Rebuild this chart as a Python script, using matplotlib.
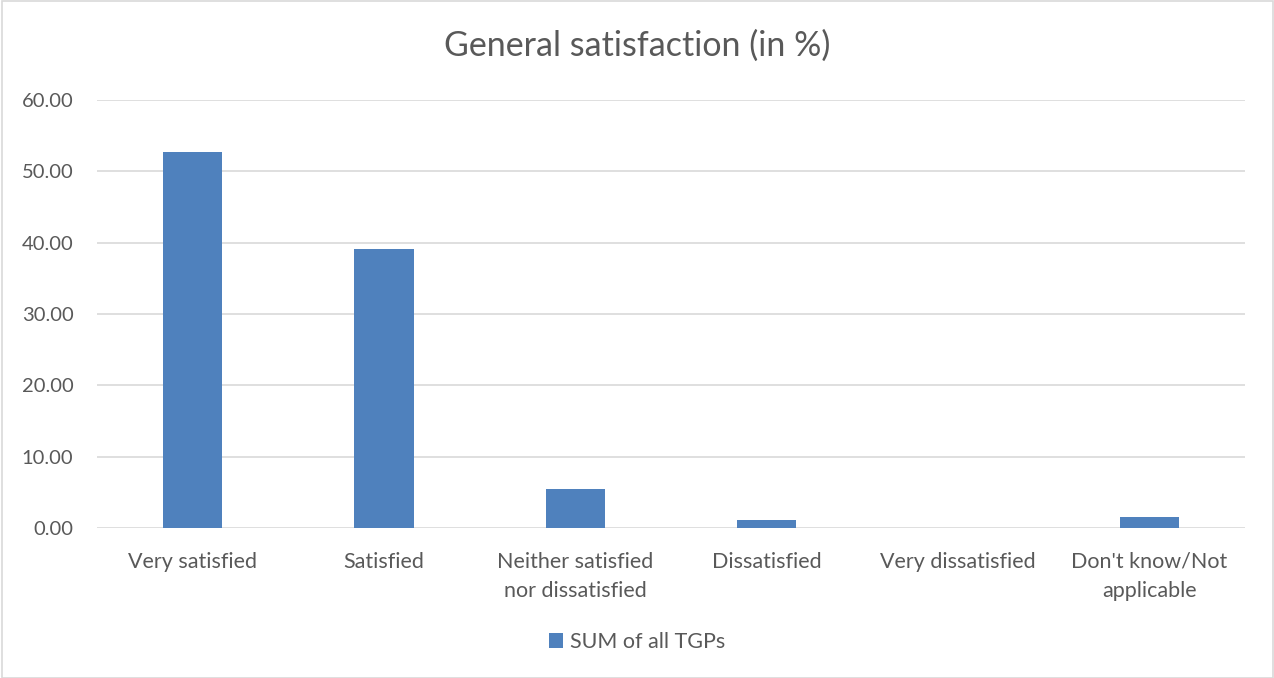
import numpy as np
import matplotlib.pyplot as plt
from matplotlib.patches import Rectangle

plt.rcParams['font.family'] = ['Lato', 'DejaVu Sans']

categories = ["Very satisfied", "Satisfied", "Neither satisfied\nnor dissatisfied",
              "Dissatisfied", "Very dissatisfied", "Don't know/Not\napplicable"]
values = [52.73, 39.11, 5.49, 1.07, 0.0, 1.55]
series_name = "SUM of all TGPs"

text_color = "#595959"
bar_color = "#4F81BD"
grid_color = "#D9D9D9"

fig = plt.figure(figsize=(12.74, 6.78), dpi=100)
ax = fig.add_axes([97 / 1274, 1 - 528 / 678, (1245 - 97) / 1274, 428 / 678])

x = np.arange(len(categories))
ax.bar(x, values, width=0.31, color=bar_color, label=series_name, zorder=3)

ax.set_xlim(-0.5, len(categories) - 0.5)
ax.set_ylim(0, 60)
ax.set_yticks(np.arange(0, 61, 10))
ax.set_yticklabels([f"{v:.2f}" for v in np.arange(0, 61, 10)])
ax.set_xticks(x)
ax.set_xticklabels(categories, linespacing=1.6)

ax.grid(axis="y", color=grid_color, linewidth=1.2, zorder=0)
for s in ax.spines.values():
    s.set_visible(False)
ax.tick_params(axis="both", length=0, labelcolor=text_color)
ax.tick_params(axis="y", pad=17, labelsize=14.5)
ax.tick_params(axis="x", pad=17, labelsize=15.5)

fig.text(0.5, 1 - 46 / 678, "General satisfaction (in %)", ha="center", va="center",
         fontsize=24.5, color=text_color)

fig.legend(loc="center", bbox_to_anchor=(0.5, 1 - 642 / 678), frameon=False,
           fontsize=15.5, labelcolor=text_color, handlelength=0.65, handleheight=0.65,
           handletextpad=0.3)

fig.patches.append(Rectangle((2 / 1274, 0), 1 - 3 / 1274, 1 - 1 / 678, transform=fig.transFigure,
                             fill=False, edgecolor=grid_color, linewidth=1.2))

fig.savefig("out.png", dpi=100)
